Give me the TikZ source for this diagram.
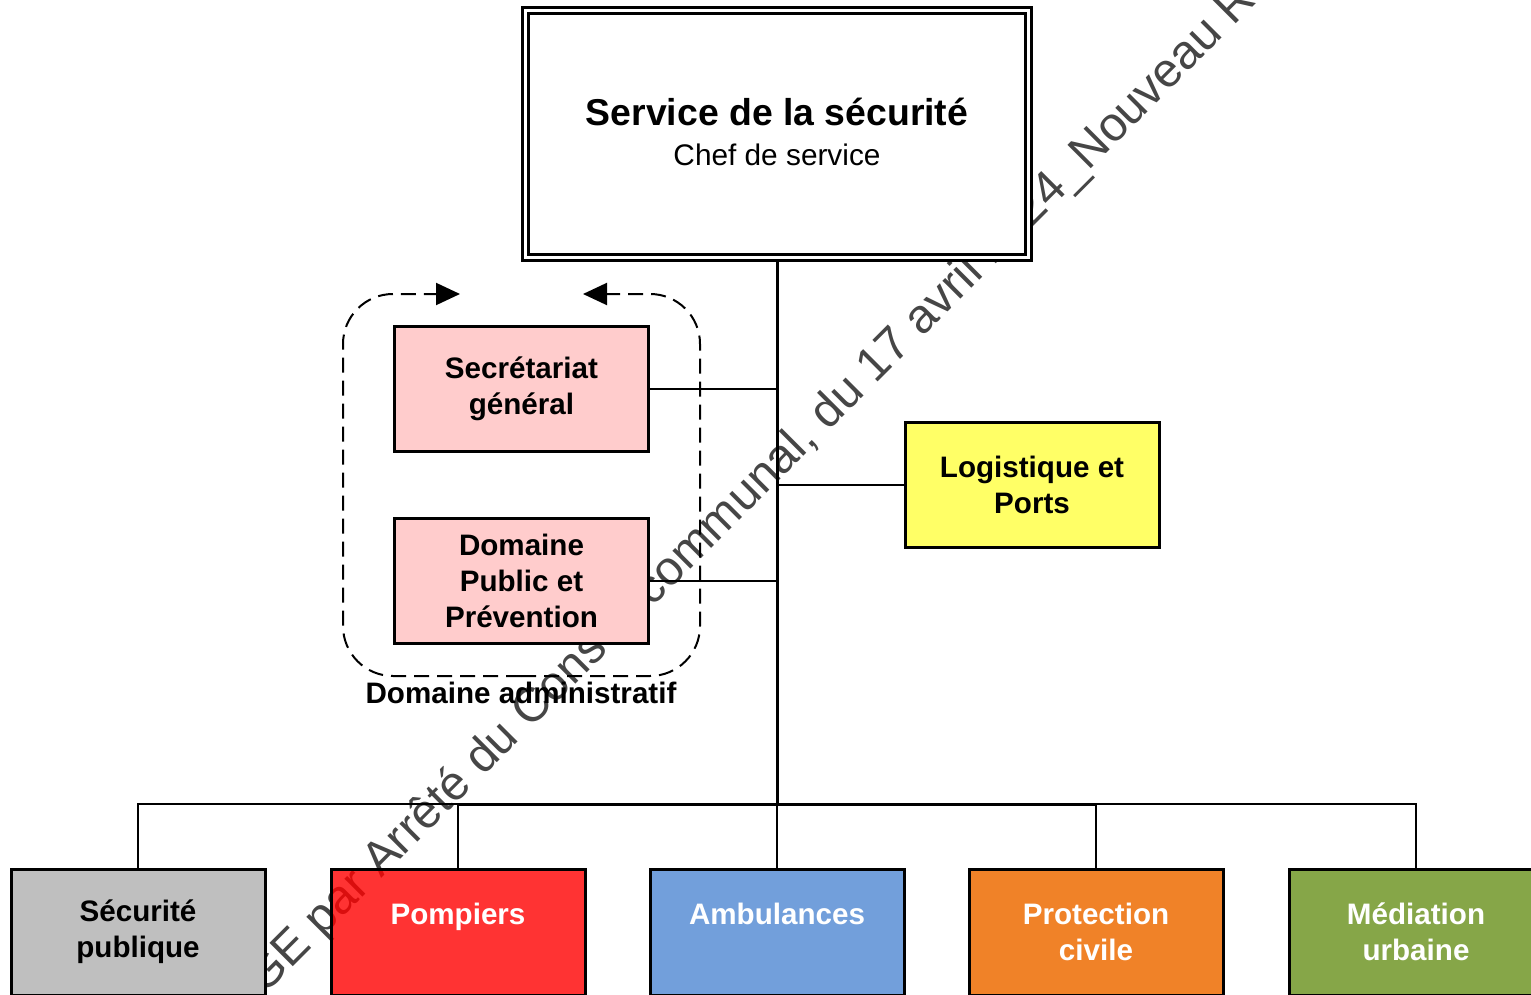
\documentclass[tikz,border=0pt]{standalone}
\usepackage{fontspec}
\setmainfont{Liberation Sans}
\usetikzlibrary{positioning}
\usetikzlibrary{arrows.meta}

\definecolor{wmgray}{RGB}{70,70,70}
\definecolor{secpink}{RGB}{255,204,204}
\definecolor{logyellow}{RGB}{255,255,102}
\definecolor{pubgray}{RGB}{191,191,191}
\definecolor{ambblue}{RGB}{114,159,219}
\definecolor{protorange}{RGB}{240,130,40}
\definecolor{medgreen}{RGB}{134,166,72}

\begin{document}
\begin{tikzpicture}[x=0.5pt,y=-0.5pt]
\useasboundingbox (0,0) rectangle (1531,995);
\clip (0,0) rectangle (1531,995);

% watermark, behind everything
\node [rotate=45,anchor=base west,inner sep=0pt,text=wmgray,font=\fontsize{24}{28}\selectfont] (wmark) at (264,996) {GE par Arrêté du Conseil communal, du 17 avril 2024\_Nouveau R};

\node [draw,double,line width=1.4pt,double distance=1.6pt,fill=white,minimum width=251.6pt,minimum height=123.6pt,inner sep=0pt,align=center,text depth=2.2pt,font=\fontsize{14.9}{20}\selectfont] (chef) at (777,134) {{\fontsize{18.7}{20}\selectfont\bfseries Service de la sécurité}\\Chef de service};

\begin{scope}[every node/.style={draw,line width=1.5pt,minimum width=127pt,minimum height=62.5pt,inner sep=0pt,align=center,font=\fontsize{14.8}{18}\selectfont\bfseries}]
    \node [fill=secpink] (secr) at (521.5,389) {Secrétariat\\général};
    \node [fill=secpink] (dpp) at (521.5,581) {Domaine\\Public et\\Prévention};
    \node [fill=logyellow] (logi) at (1032,485) {Logistique et\\Ports};
\end{scope}

\begin{scope}[every node/.style={draw,line width=1.5pt,minimum width=127pt,minimum height=63pt,inner sep=0pt,align=center,text=white,font=\fontsize{14.8}{18}\selectfont\bfseries}]
    \node [fill=pubgray,text=black] (secu) at (138,932) {Sécurité\\publique};
    \node [fill=red,fill opacity=0.8,text opacity=1] (pomp) at (458,932) {Pompiers\\\mbox{}};
    \node [fill=ambblue] (ambu) at (777,932) {Ambulances\\\mbox{}};
    \node [fill=protorange] (prot) at (1096,932) {Protection\\civile};
    \node [fill=medgreen] (medi) at (1416,932) {Médiation\\urbaine};
\end{scope}

\node [font=\fontsize{14.8}{18}\selectfont\bfseries] (admlbl) at (521,693) {Domaine administratif};
\coordinate (bus) at (777,804);

\begin{scope}[line width=1pt,>={Triangle[length=12pt,width=11pt]}]
     \draw [dash pattern=on 7.5pt off 4pt,rounded corners=25pt,->] (521,676) -- (343,676) -- (343,294) -- (460,294);
     \draw [dash pattern=on 7.5pt off 4pt,rounded corners=25pt,->] (521,676) -- (700,676) -- (700,294) -- (583,294);

     \draw [line width=1.5pt] (chef.south) -- (bus);
     \draw (secr.east) -- (secr.east -| bus);
     \draw (dpp.east) -- (dpp.east -| bus);
     \draw (logi.west) -- (logi.west -| bus);

     \draw (secu.north) -- (secu.north |- bus) -- (medi.north |- bus) -- (medi.north);
     \draw [line width=1.5pt] (pomp.north |- bus) -- (prot.north |- bus);
     \draw (pomp.north) -- (pomp.north |- bus);
     \draw (ambu.north) -- (bus);
     \draw (prot.north) -- (prot.north |- bus);
\end{scope}
\end{tikzpicture}
\end{document}
